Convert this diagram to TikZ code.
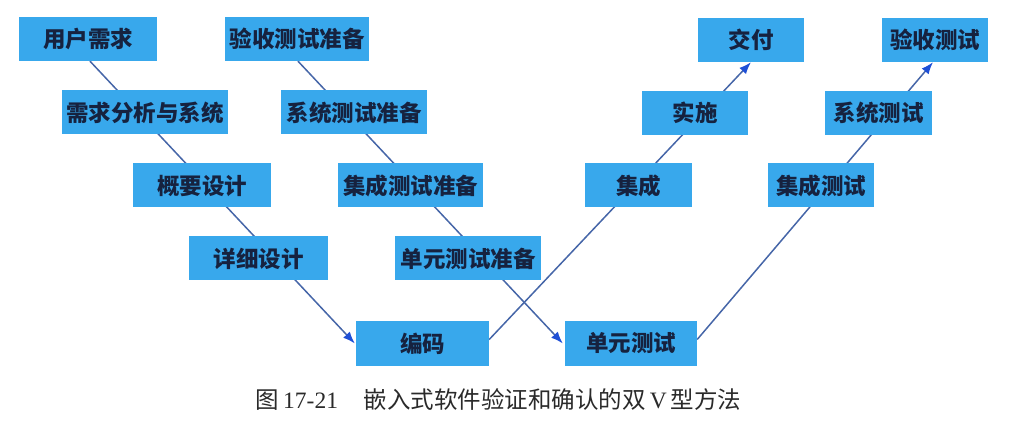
\documentclass[tikz,border=0pt]{standalone}
\usepackage{fontspec}
\setmainfont{Liberation Serif}
\newfontfamily\cjk{Noto Sans CJK SC}
\usetikzlibrary{arrows.meta,backgrounds}
\definecolor{boxblue}{HTML}{38A8EC}
\definecolor{txtnavy}{HTML}{16223F}
\definecolor{lineblue}{HTML}{4666A8}
\definecolor{tipblue}{HTML}{1E4FD6}
\definecolor{captxt}{HTML}{2A2A2A}
\tikzset{
  vbox/.style={rectangle, fill=boxblue, inner sep=0pt, minimum height=44pt,
    text=txtnavy, font=\cjk\bfseries\fontsize{22.5}{24}\selectfont},
  vline/.style={draw=lineblue, line width=1.5pt},
  varrow/.style={vline, -{Latex[length=12pt,width=9pt,color=tipblue,fill=tipblue]}},
}
\begin{document}
\begin{tikzpicture}[x=1pt,y=-1pt]
\useasboundingbox (0,0) rectangle (1012,430);
% row 1
\node[vbox, minimum width=138pt] (yh)  at (88,39)    {用户需求};
\node[vbox, minimum width=144pt] (ysz) at (297,39)   {验收测试准备};
\node[vbox, minimum width=106pt] (jf)  at (751,40)   {交付};
\node[vbox, minimum width=106pt] (ys)  at (935,40)   {验收测试};
% row 2
\node[vbox, minimum width=166pt] (xq)  at (145,112.5) {需求分析与系统};
\node[vbox, minimum width=146pt] (xcz) at (354,112.5) {系统测试准备};
\node[vbox, minimum width=106pt] (ss)  at (695,113)   {实施};
\node[vbox, minimum width=107pt] (xc)  at (878.5,113) {系统测试};
% row 3
\node[vbox, minimum width=138pt] (gy)  at (202,185.5)   {概要设计};
\node[vbox, minimum width=145pt] (jcz) at (410.5,185.5) {集成测试准备};
\node[vbox, minimum width=107pt] (jc)  at (638.5,185.5) {集成};
\node[vbox, minimum width=106pt] (jcc) at (821,185.5)   {集成测试};
% row 4
\node[vbox, minimum width=139pt] (xx)  at (258.5,258.5) {详细设计};
\node[vbox, minimum width=146pt] (dyz) at (468,258.5)   {单元测试准备};
% row 5
\node[vbox, minimum width=133pt] (bm)  at (422.5,343.5) {编码};
\node[vbox, minimum width=132pt] (dy)  at (631,343.5)   {单元测试};
% caption
\node[text=captxt, font=\fontsize{23.5}{26}\selectfont, inner sep=0pt] (cap) at (498.5,400)
  {{\cjk 图}\,17-21\hspace{1.1em}{\cjk 嵌入式软件验证和确认的双}\,V\,{\cjk 型方法}};
% connectors behind the boxes
\begin{scope}[on background layer]
\draw[varrow] ([xshift=2pt]yh.south) -- ([xshift=-1pt]bm.west);
\draw[varrow] ([xshift=1pt]ysz.south) -- ([xshift=-2pt]dy.west);
\draw[varrow] ([yshift=4pt]bm.east) -- (jf.south);
\draw[varrow] ([yshift=4pt]dy.east) -- ([xshift=-2pt]ys.south);
\end{scope}
\end{tikzpicture}
\end{document}
